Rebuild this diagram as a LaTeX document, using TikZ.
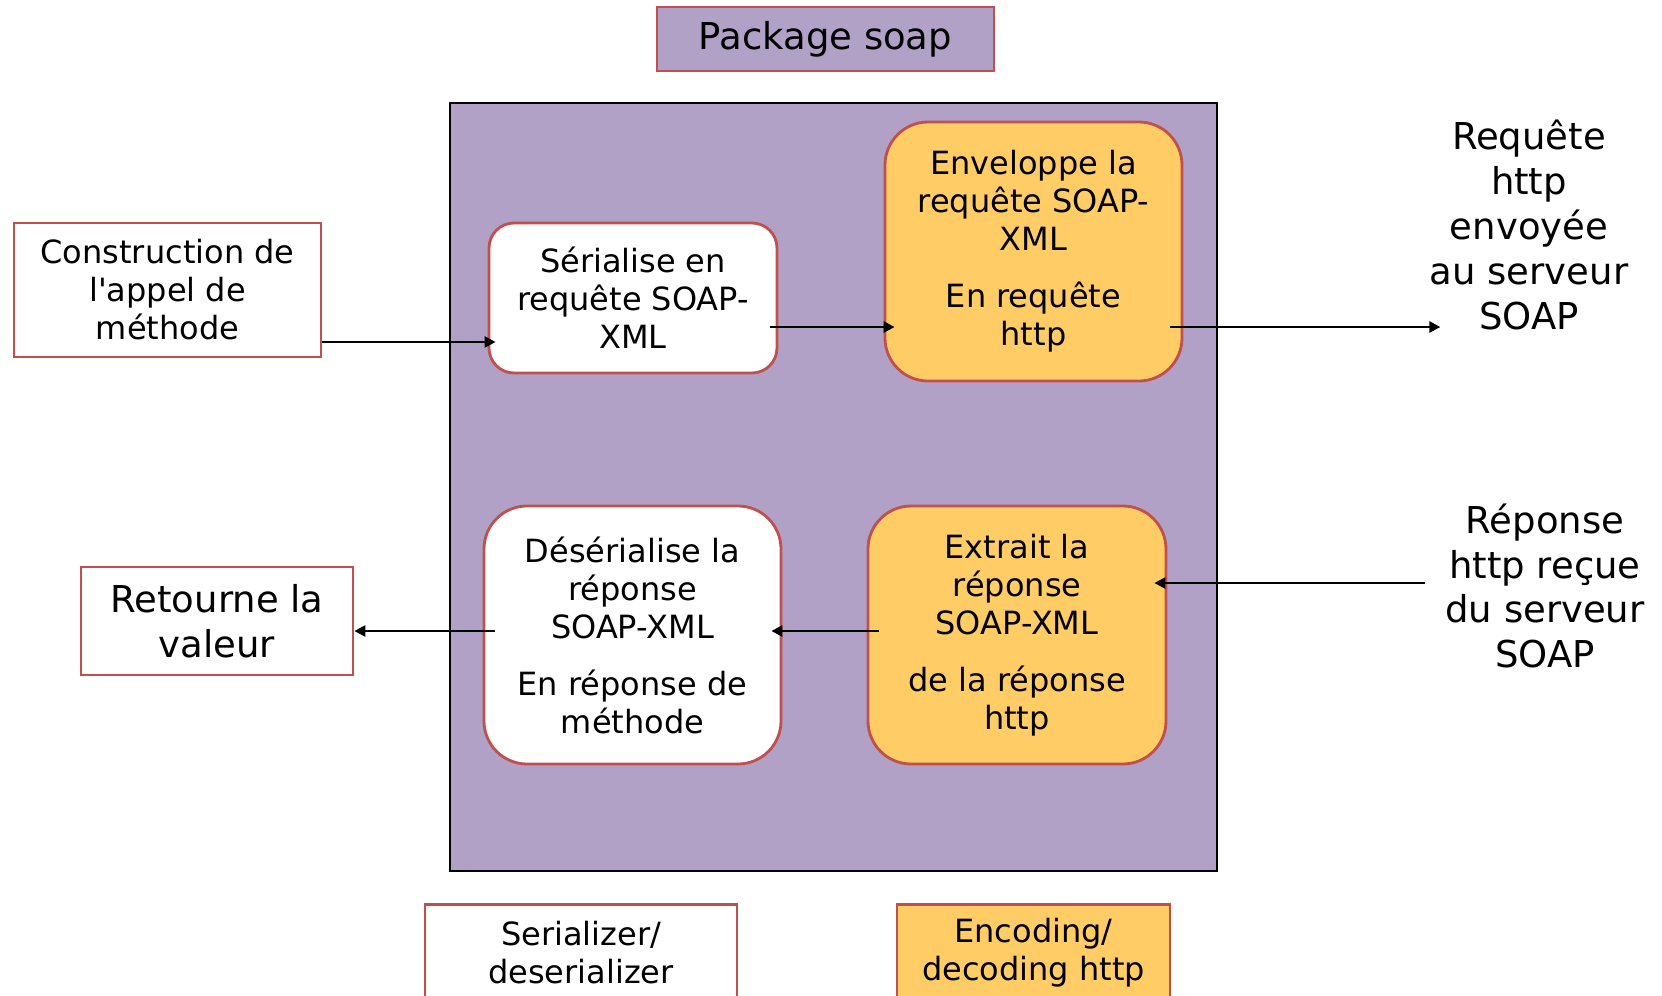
\documentclass[tikz,border=0pt]{standalone}
\usepackage{fontspec}
\setmainfont{DejaVu Sans}
\usetikzlibrary{arrows.meta,calc}
\definecolor{purp}{HTML}{B2A1C7}
\definecolor{orng}{HTML}{FFCC66}
\definecolor{redb}{HTML}{C0504D}
\newcommand{\straightq}{\XeTeXglyph\XeTeXcharglyph"0027\relax}
\begin{document}
\begin{tikzpicture}[x=0.5pt,y=-0.5pt,
  box/.style={draw=redb,line width=1.4pt,inner sep=0pt,align=center,font=\fontsize{16}{19}\selectfont},
  bigfont/.style={font=\fontsize{18.5}{22.4}\selectfont},
  bigtxt/.style={bigfont,align=center,inner sep=0pt},
  arr/.style={draw=black,line width=1.25pt,-{Triangle[length=5.5pt,width=5.5pt]}}]
\clip (0,0) rectangle (1662,996);
% title
\node[box,bigfont,fill=purp,minimum width=168.5pt,minimum height=32pt] (pkg) at (825.5,39) {Package soap};
% outer package frame
\node[draw=black,line width=1.4pt,fill=purp,minimum width=383.5pt,minimum height=384pt,inner sep=0pt] (outer) at (833.5,487) {};
% boxes
\node[box,fill=white,minimum width=153.5pt,minimum height=67pt] (constr) at (167.5,290) {Construction de\\l\straightq appel de\\méthode};
\node[box,fill=white,rounded corners=12.5pt,minimum width=144pt,minimum height=75pt] (ser) at (633,298) {Sérialise en\\requête SOAP-\\XML};
\node[box,fill=orng,rounded corners=21.5pt,minimum width=148.5pt,minimum height=129.5pt] (env) at (1033.5,251.5) {Enveloppe la\\requête SOAP-\\XML\\[9.5pt]En requête\\http};
\node[box,fill=orng,rounded corners=21.5pt,minimum width=149pt,minimum height=129pt] (ext) at (1017,635) {Extrait la\\réponse\\SOAP-XML\\[9.5pt]de la réponse\\http};
\node[box,fill=white,rounded corners=21.5pt,minimum width=148.5pt,minimum height=129pt] (des) at (632.5,635) {Désérialise la\\réponse\\SOAP-XML\\[9.5pt]En réponse de\\méthode};
\node[box,bigfont,fill=white,minimum width=136pt,minimum height=54pt] (ret) at (217,621) {Retourne la\\valeur};
\node[box,fill=white,minimum width=156pt,minimum height=48pt,anchor=north] (serdes) at (581,903) {Serializer/\\deserializer};
\node[box,fill=orng,minimum width=136.5pt,minimum height=48pt,anchor=north] (encdec) at (1033.5,903) {Encoding/\\decoding http};
% free texts
\node[bigtxt] (req) at (1529,225) {Requête\\http\\envoyée\\au serveur\\SOAP};
\node[bigtxt] (rep) at (1545,586) {Réponse\\http reçue\\du serveur\\SOAP};
% connectors
\draw[arr,shorten >=-4pt] ([yshift=-26pt]constr.east) -- ([yshift=-26pt]constr.east -| ser.west);
\draw[arr,shorten <=-4pt,shorten >=-5.5pt] ([yshift=-14.5pt]ser.east) -- ([yshift=-14.5pt]ser.east -| env.west);
\draw[arr,shorten <=-6.5pt,shorten >=-5.5pt] ([yshift=-37.75pt]env.east) -- ([yshift=-37.75pt]env.east -| req.west);
\draw[arr,shorten <=10pt,shorten >=-6.5pt] ([yshift=26pt]ext.east -| rep.west) -- ([yshift=26pt]ext.east);
\draw[arr,shorten <=-6pt,shorten >=-5.5pt] ([yshift=2pt]ext.west) -- ([yshift=2pt]ext.west -| des.east);
\draw[arr,shorten <=-6pt] ([yshift=2pt]des.west) -- ([yshift=2pt]des.west -| ret.east);
\end{tikzpicture}
\end{document}
